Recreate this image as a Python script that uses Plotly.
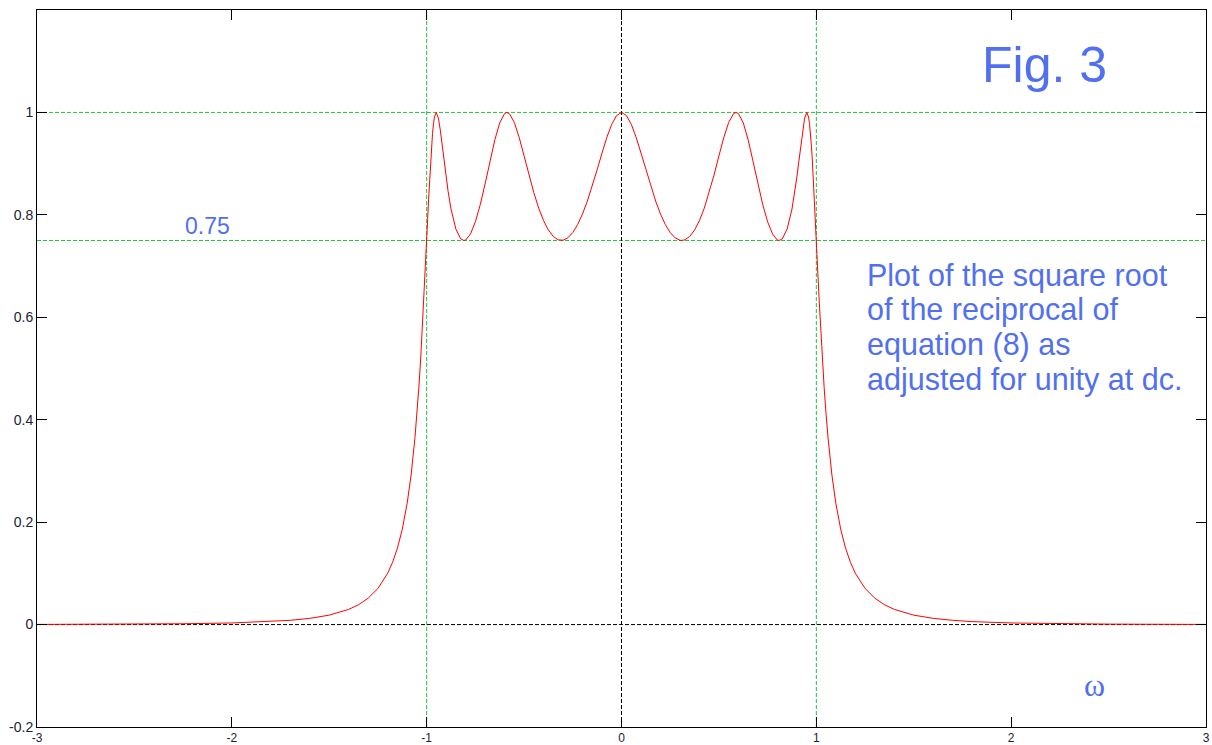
import plotly.graph_objects as go

# Half of the (symmetric) magnitude curve (omega >= 0)
omega_half = [0, 0.025, 0.05, 0.075, 0.1, 0.125, 0.15, 0.175, 0.2, 0.225, 0.25, 0.275, 0.3, 0.309,
              0.325, 0.35, 0.375, 0.4, 0.425, 0.45, 0.475, 0.5, 0.525, 0.55, 0.575, 0.588, 0.6,
              0.625, 0.65, 0.675, 0.7, 0.725, 0.75, 0.775, 0.8, 0.809, 0.825, 0.85, 0.875, 0.89,
              0.9, 0.91, 0.92, 0.93, 0.94, 0.951, 0.96, 0.965, 0.97, 0.975, 0.98, 0.985, 0.99,
              0.995, 1.0, 1.005, 1.01, 1.015, 1.02, 1.03, 1.04, 1.05, 1.06, 1.08, 1.1, 1.125,
              1.15, 1.175, 1.2, 1.25, 1.3, 1.35, 1.4, 1.5, 1.6, 1.7, 1.8, 2.0, 2.25, 2.5, 3.0]
mag_half = [1.0, 0.994, 0.977, 0.9515, 0.9208, 0.8882, 0.8564, 0.8271, 0.8018, 0.7811, 0.7655,
            0.7552, 0.7504, 0.75, 0.7513, 0.7577, 0.7702, 0.7887, 0.8132, 0.8433, 0.8779, 0.915,
            0.9509, 0.9804, 0.9976, 1.0, 0.9978, 0.9797, 0.9466, 0.9047, 0.8606, 0.8199, 0.7864,
            0.7627, 0.7509, 0.75, 0.7531, 0.7721, 0.8114, 0.8459, 0.8734, 0.9038, 0.9354, 0.9654,
            0.989, 1.0, 0.9912, 0.978, 0.9587, 0.9336, 0.9032, 0.8685, 0.8307, 0.7908, 0.75,
            0.7091, 0.6689, 0.6299, 0.5926, 0.5238, 0.4633, 0.4106, 0.3651, 0.2919, 0.237,
            0.1863, 0.1492, 0.1215, 0.1003, 0.0706, 0.0516, 0.0387, 0.0297, 0.0184, 0.0121,
            0.0083, 0.0058, 0.0031, 0.0016, 0.0009, 0.0003]

x_ticks = [-3, -2, -1, 0, 1, 2, 3]
y_ticks = [-0.2, 0, 0.2, 0.4, 0.6, 0.8, 1]
y_ticktext = ["-0.2", "0", "0.2", "0.4", "0.6", "0.8", "1"]

green_h = [1.0, 0.75]
green_v = [-1, 1]
black_h = [0]
black_v = [0]

x_range = [-3, 3]
y_range = [-0.2, 1.2]

note_lines = ["Plot of the square root", "of the reciprocal of",
              "equation (8) as", "adjusted for unity at dc."]

omega = [-v for v in reversed(omega_half[1:])] + omega_half
mag = list(reversed(mag_half[1:])) + mag_half

BLUE = "#5070f0"
GREEN = "#22c040"

fig = go.Figure()

shapes = []
for yv in green_h:
    shapes.append(dict(type="line", xref="x", yref="y", x0=x_range[0], x1=x_range[1], y0=yv, y1=yv,
                       line=dict(color=GREEN, width=1, dash="4px,2px"), layer="below"))
for xv in green_v:
    shapes.append(dict(type="line", xref="x", yref="y", x0=xv, x1=xv, y0=y_range[0], y1=y_range[1],
                       line=dict(color=GREEN, width=1, dash="4px,2px"), layer="below"))
for yv in black_h:
    shapes.append(dict(type="line", xref="x", yref="y", x0=x_range[0], x1=x_range[1], y0=yv, y1=yv,
                       line=dict(color="black", width=1, dash="4px,2px"), layer="below"))
for xv in black_v:
    shapes.append(dict(type="line", xref="x", yref="y", x0=xv, x1=xv, y0=y_range[0], y1=y_range[1],
                       line=dict(color="black", width=1, dash="4px,2px"), layer="below"))

fig.add_trace(go.Scatter(x=omega, y=mag, mode="lines",
                         line=dict(color="#ff0000", width=1), showlegend=False,
                         hoverinfo="skip"))

annotations = [
    dict(x=1.841, y=1.0928, xref="x", yref="y", text="Fig. 3", showarrow=False,
         xanchor="left", yanchor="middle", font=dict(family="Liberation Sans", size=50, color=BLUE)),
    dict(x=-2.2505, y=0.7773, xref="x", yref="y", text="0.75", showarrow=False,
         xanchor="left", yanchor="middle", font=dict(family="Liberation Sans", size=23, color=BLUE)),
    dict(x=2.4297, y=-0.1172, xref="x", yref="y", text="ω", showarrow=False,
         xanchor="center", yanchor="middle", font=dict(family="Liberation Serif", size=32, color=BLUE)),
]
line_y = [0.6816, 0.6152, 0.5469, 0.4785]
for txt, yv in zip(note_lines, line_y):
    annotations.append(dict(x=1.252, y=yv, xref="x", yref="y", text=txt, showarrow=False,
                            xanchor="left", yanchor="middle",
                            font=dict(family="Liberation Sans", size=30.5, color=BLUE)))

axis_common = dict(showgrid=False, zeroline=False, showline=True, linecolor="black", linewidth=1,
                   mirror="ticks", ticks="inside", ticklen=10, tickcolor="black", tickwidth=1,
                   automargin=False)

fig.update_layout(
    width=1212, height=745,
    margin=dict(l=37, r=6, t=10, b=18),
    paper_bgcolor="white", plot_bgcolor="white",
    shapes=shapes, annotations=annotations,
    xaxis=dict(range=x_range, tickmode="array", tickvals=x_ticks,
               ticktext=[str(v) for v in x_ticks],
               tickfont=dict(family="Liberation Sans", size=12, color="#222233"),
               **axis_common),
    yaxis=dict(range=y_range, tickmode="array", tickvals=y_ticks, ticktext=y_ticktext,
               tickfont=dict(family="Liberation Sans", size=14, color="#222233"),
               **axis_common),
)

fig.write_html("out.html")
